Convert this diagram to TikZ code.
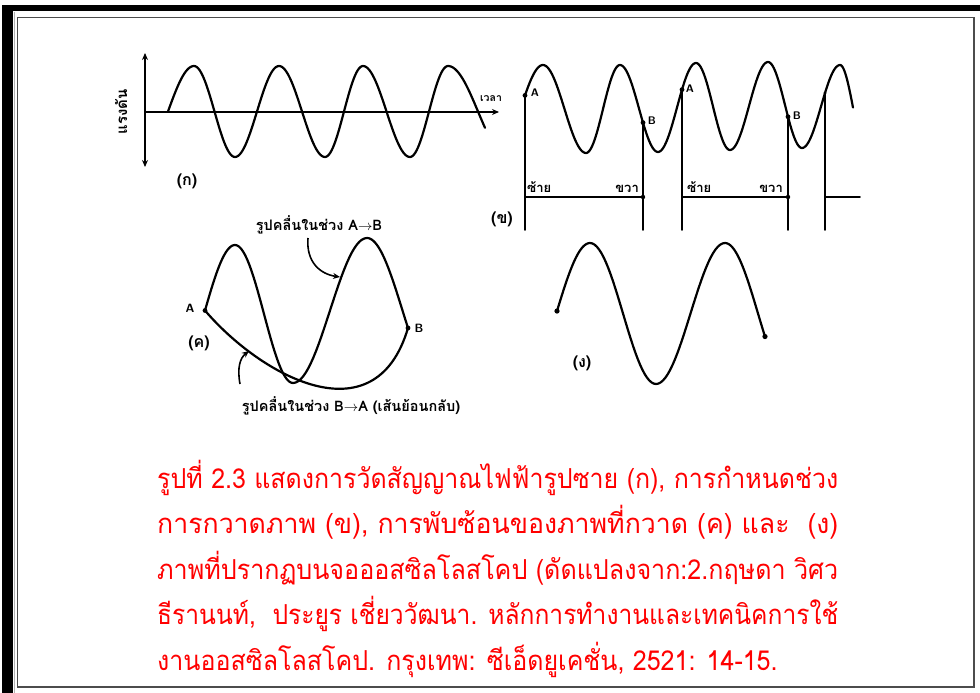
\documentclass[tikz,border=0pt]{standalone}
\usepackage{fontspec}
\usepackage{graphicx}
\newfontfamily\thaifont[Script=Thai]{Loma}
\usetikzlibrary{arrows.meta}
\newcommand\hsg[6]{-- plot[domain=#5:#6,samples=30,variable=\t] (\t,{hw(\t,#1,#2,#3,#4)})}
\newcommand\capjust[1]{\scalebox{1}[1.1]{\resizebox{681pt}{\height}{#1}}}
\newcommand\capfree[1]{\scalebox{1}[1.1]{#1}}
\begin{document}
\begin{tikzpicture}[x=1pt,y=-1pt,
  declare function={hw(\p,\a,\b,\c,\d)=(\b+\d)/2+(\b-\d)/2*cos(180*(\p-\a)/(\c-\a));},
  wave/.style={line width=2.2pt,line cap=round,line join=round},
  vline/.style={line width=1.9pt,line cap=round},
  axisline/.style={line width=2pt},
  arr/.style={line width=1.6pt,-{Stealth[length=7pt,width=6pt]}},
  lbl/.style={font=\sffamily\bfseries\fontsize{12}{12}\selectfont,inner sep=0pt},
  tlbl/.style={font=\thaifont\bfseries\fontsize{13}{13}\selectfont,inner sep=0pt},
  plbl/.style={font=\thaifont\bfseries\fontsize{16}{16}\selectfont,inner sep=0pt},
  captext/.style={font=\thaifont\fontsize{25}{25}\selectfont,text=red,inner sep=0pt,anchor=base west},
  dot/.style={fill=black}]
\useasboundingbox (0,0) rectangle (980,693);
% frame
\fill[black] (2,5) rectangle (980,11.5);
\fill[black] (2,5) rectangle (13,693);
\draw[gray!60,line width=0.8pt] (14.8,12) -- (14.8,693);
\draw[black!70,line width=1.8pt] (17.5,17.5) rectangle (974,687);

% ---------- (k) ----------
\coordinate (vt) at (145,53);
\coordinate (vb) at (145,167);
\coordinate (o) at (145,112);
\coordinate (xe) at (499,112);
\draw[axisline,{Stealth[length=7pt,width=6pt]}-{Stealth[length=7pt,width=6pt]}] (vt) -- (vb);
\draw[axisline,-{Stealth[length=7pt,width=6pt]}] (o) -- (xe);
\draw[wave] plot[domain=168:194,samples=20,variable=\t] (\t,{hw(\t,142,157,194,66)})
  \hsg{194}{66}{235}{157}{194}{235}
  \hsg{235}{157}{279}{66}{235}{279}
  \hsg{279}{66}{325}{157}{279}{325}
  \hsg{325}{157}{363}{66}{325}{363}
  \hsg{363}{66}{410}{157}{363}{410}
  \hsg{410}{157}{448}{66}{410}{448}
  \hsg{448}{66}{508}{157}{448}{485};
\node[tlbl,rotate=90,font=\thaifont\bfseries\fontsize{15}{15}\selectfont] (lv) at (121,112) {แรงดัน};
\node[tlbl,font=\thaifont\bfseries\fontsize{10.5}{10.5}\selectfont] (lt) at (491,99) {เวลา};
\node[plbl] (pk) at (187,181) {(ก)};

% ---------- (kh) ----------
\draw[wave] plot[domain=525:543,samples=20,variable=\t] (\t,{hw(\t,498,153,543,65)})
  \hsg{543}{65}{586}{153}{543}{586}
  \hsg{586}{153}{620}{65}{586}{620}
  \hsg{620}{65}{658}{152}{620}{658}
  \hsg{658}{152}{696}{63}{658}{696}
  \hsg{696}{63}{730}{150}{696}{730}
  \hsg{730}{150}{768}{62}{730}{768}
  \hsg{768}{62}{802}{148}{768}{802}
  \hsg{802}{148}{840}{65}{802}{840}
  \hsg{840}{65}{866}{150}{840}{853};
\coordinate (A1) at (525,{hw(525,498,153,543,65)});
\coordinate (B1) at (643,{hw(643,620,65,658,152)});
\coordinate (A2) at (682,{hw(682,658,152,696,63)});
\coordinate (B2) at (788,{hw(788,768,62,802,148)});
\coordinate (C3) at (825,{hw(825,802,148,840,65)});
\foreach \n/\xx in {A1/525,B1/643,A2/682,B2/788,C3/825}{
  \coordinate (\n b) at (\xx,230);
  \coordinate (\n h) at (\xx,197);
  \draw[vline] (\n) -- (\n b);
}
\coordinate (Eh) at (860,197);
\draw[vline] (A1h) -- (B1h);
\draw[vline] (A2h) -- (B2h);
\draw[vline] (C3h) -- (Eh);
\foreach \n in {A1,B1,A2,B2}{\fill[dot] (\n) circle (2.4);}
\fill[dot] (C3) circle (1.6);
\fill[dot] (B1h) circle (2.2);
\fill[dot] (B2h) circle (2.2);
\node[lbl,font=\sffamily\bfseries\fontsize{11}{11}\selectfont] (la1) at (535,93) {A};
\node[lbl,font=\sffamily\bfseries\fontsize{11}{11}\selectfont] (lb1) at (652,121) {B};
\node[lbl,font=\sffamily\bfseries\fontsize{11}{11}\selectfont] (la2) at (690,89) {A};
\node[lbl,font=\sffamily\bfseries\fontsize{11}{11}\selectfont] (lb2) at (797,116) {B};
\node[tlbl,anchor=base west] (ls1) at (527,192) {ซ้าย};
\node[tlbl,anchor=base east] (lr1) at (639,192) {ขวา};
\node[tlbl,anchor=base west] (ls2) at (687,192) {ซ้าย};
\node[tlbl,anchor=base east] (lr2) at (783,192) {ขวา};
\node[plbl] (pkh) at (502,219) {(ข)};

% ---------- (kho) ----------
\draw[wave] plot[domain=205:235,samples=20,variable=\t] (\t,{hw(\t,173,383,235,245)})
  \hsg{235}{245}{293}{383}{235}{293}
  \hsg{293}{383}{367}{238}{293}{367}
  \hsg{367}{238}{438}{383}{367}{408};
\coordinate (cA) at (205,{hw(205,173,383,235,245)});
\coordinate (cB) at (408,{hw(408,367,238,438,383)});
\draw[wave] (cB) .. controls (375,440) and (260,375) .. (cA);
\fill[dot] (cA) circle (2.4);
\fill[dot] (cB) circle (2.4);
\node[lbl] (lca) at (190,308) {A};
\node[lbl] (lcb) at (419,328) {B};
\node[plbl] (pkk) at (199,343) {(ค)};
\node[tlbl,font=\thaifont\bfseries\fontsize{14.5}{14.5}\selectfont] (t1) at (319,225) {รูปคลื่นในช่วง A$\to$B};
\coordinate (r1s) at (308,238);
\coordinate (r1e) at (340,277);
\draw[arr] (r1s) .. controls (306,262) and (320,274) .. (r1e);
\node[tlbl,font=\thaifont\bfseries\fontsize{14.5}{14.5}\selectfont] (t2) at (351,406) {รูปคลื่นในช่วง B$\to$A (เส้นย้อนกลับ)};
\coordinate (r2s) at (240,384);
\coordinate (r2e) at (249,351);
\draw[arr] (r2s) .. controls (237,368) and (240,358) .. (r2e);

% ---------- (ngo) ----------
\draw[wave] plot[domain=557:590,samples=20,variable=\t] (\t,{hw(\t,522.5,384,590,243)})
  \hsg{590}{243}{656}{384}{590}{656}
  \hsg{656}{384}{725}{243}{656}{725}
  \hsg{725}{243}{791}{384}{725}{765};
\coordinate (dS) at (557,{hw(557,522.5,384,590,243)});
\coordinate (dE) at (765,{hw(765,725,243,791,384)});
\fill[dot] (dS) circle (2.6);
\fill[dot] (dE) circle (2.6);
\node[plbl] (png) at (582,363) {(ง)};

% ---------- caption ----------
\node[captext] (c1) at (157,488) {\capjust{รูปที่ 2.3 แสดงการวัดสัญญาณไฟฟ้ารูปซาย (ก), การกำหนดช่วง}};
\node[captext] (c2) at (157,533.5) {\capjust{การกวาดภาพ (ข), การพับซ้อนของภาพที่กวาด (ค) และ~~(ง)}};
\node[captext] (c3) at (157,579) {\capjust{ภาพที่ปรากฏบนจอออสซิลโลสโคป (ดัดแปลงจาก:2.กฤษดา วิศว}};
\node[captext] (c4) at (157,624.5) {\capjust{ธีรานนท์,~~ประยูร เชี่ยววัฒนา. หลักการทำงานและเทคนิคการใช้}};
\node[captext] (c5) at (157,670) {\capfree{งานออสซิลโลสโคป. กรุงเทพ: ซีเอ็ดยูเคชั่น, 2521: 14-15.}};
\end{tikzpicture}
\end{document}
